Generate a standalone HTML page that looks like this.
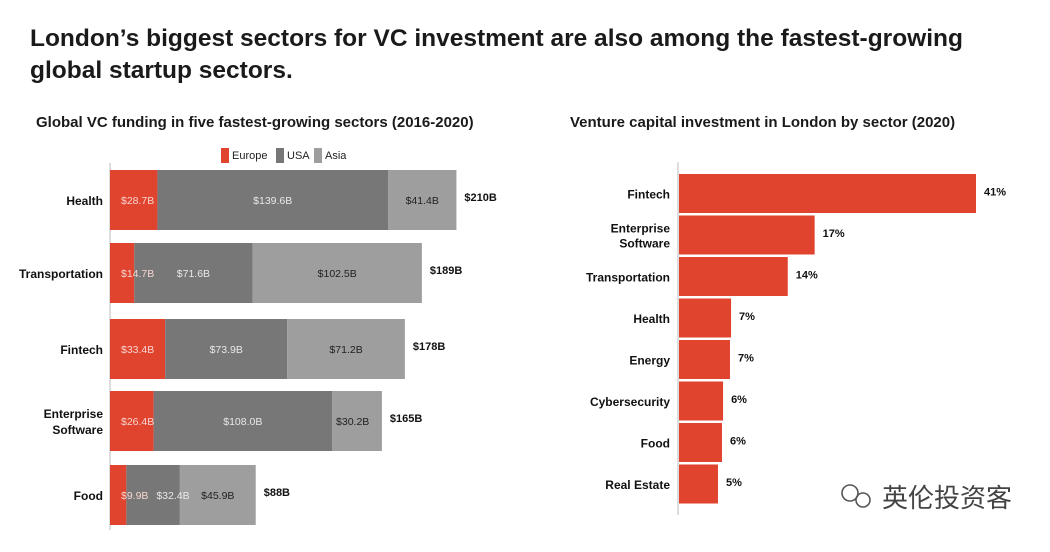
<!DOCTYPE html>
<html><head><meta charset="utf-8"><style>
body{margin:0;background:#fff;width:1050px;height:547px;overflow:hidden;font-family:"Liberation Sans","Noto Sans CJK SC",sans-serif}
svg text{font-family:"Liberation Sans","Noto Sans CJK SC",sans-serif}
</style></head><body>
<svg width="1050" height="547" viewBox="0 0 1050 547">
<text x="30" y="46" font-size="24.5" font-weight="bold" fill="#1a1a1a">London’s biggest sectors for VC investment are also among the fastest-growing</text>
<text x="30" y="78" font-size="24.5" font-weight="bold" fill="#1a1a1a">global startup sectors.</text>
<text x="36" y="127" font-size="15" font-weight="bold" fill="#1a1a1a">Global VC funding in five fastest-growing sectors (2016-2020)</text>
<text x="570" y="127" font-size="15" font-weight="bold" fill="#1a1a1a">Venture capital investment in London by sector (2020)</text>
<g>
<rect x="221" y="148" width="8" height="15" fill="#e0432e"/>
<text x="232" y="159" font-size="11" fill="#222">Europe</text>
<rect x="276" y="148" width="8" height="15" fill="#777"/>
<text x="287" y="159" font-size="11" fill="#222">USA</text>
<rect x="314" y="148" width="8" height="15" fill="#9e9e9e"/>
<text x="325" y="159" font-size="11" fill="#222">Asia</text>
</g>
<g id="left"><g id="leftBars"></g><g id="leftLabels"></g></g>
<g id="right"></g>
<g>
<circle cx="850" cy="493" r="8" fill="none" stroke="#555" stroke-width="1.6"/>
<circle cx="863" cy="500" r="7" fill="none" stroke="#555" stroke-width="1.6"/>
<text x="882" y="507" font-size="26" fill="#444">英伦投资客</text>
</g>
</svg>
<script>
const leftCats=[["Health"],["Transportation"],["Fintech"],["Enterprise","Software"],["Food"]];
const europe=[28.7,14.7,33.4,26.4,9.9];
const usa=[139.6,71.6,73.9,108.0,32.4];
const asia=[41.4,102.5,71.2,30.2,45.9];
const totals=["$210B","$189B","$178B","$165B","$88B"];
const rightCats=[["Fintech"],["Enterprise","Software"],["Transportation"],["Health"],["Energy"],["Cybersecurity"],["Food"],["Real Estate"]];
const shares=[41,18.8,15.1,7.3,7.15,6.2,6.05,5.5];
const shareLabels=["41%","17%","14%","7%","7%","6%","6%","5%"];
const NS="http://www.w3.org/2000/svg";
function mk(t,a,p){const e=document.createElementNS(NS,t);for(const k in a)e.setAttribute(k,a[k]);p.appendChild(e);return e;}
const LB=document.getElementById('leftBars');
const LT=document.getElementById('leftLabels');
const lx=v=>110+v*1.652;
const lTop=[170,243,319,391,465], lH=60;
const axL=mk('line',{x1:110,y1:163,x2:110,y2:530,stroke:'#ddd','stroke-width':2},LB);


leftCats.forEach((c,i)=>{
  const y=lTop[i], cy=y+lH/2;
  const segs=[[europe[i],'#e0432e','#f6d6d0','europe'],[usa[i],'#777','#e8e8e8','usa'],[asia[i],'#9e9e9e','#222','asia']];
  let acc=0;
  segs.forEach(s=>{
    const r=mk('rect',{x:lx(acc),y:y,width:lx(acc+s[0])-lx(acc),height:lH,fill:s[1]},LB);
    
    
    const w=lx(acc+s[0])-lx(acc);
    const small=w<60;
    const off=s[3]==='europe'?11:(s[3]==='usa'?30:4);
    const t=mk('text',{x:small?lx(acc)+off:(lx(acc)+lx(acc+s[0]))/2,y:cy+4,'font-size':10.5,fill:s[2],'text-anchor':small?'start':'middle'},LT);
    t.textContent='$'+s[0].toFixed(1)+'B';
    
    
    acc+=s[0];
  });
  const tt=mk('text',{x:lx(acc)+8,y:cy+1,'font-size':11,'font-weight':'bold',fill:'#111'},LT);
  tt.textContent=totals[i];
  
  
  c.forEach((w,j)=>{
    const ct=mk('text',{x:103,y:cy+5+(j-(c.length-1)/2)*16,'font-size':12,'font-weight':'bold',fill:'#111','text-anchor':'end'},LT);
    ct.textContent=w;
    
    
  });
});
const R=document.getElementById('right');
const rx=v=>678+v*(298/41);
const axR=mk('line',{x1:678,y1:162,x2:678,y2:515,stroke:'#ddd','stroke-width':2},R);


rightCats.forEach((c,i)=>{
  const y=174+i*41.5, h=39, cy=y+h/2;
  const r=mk('rect',{x:679,y:y,width:rx(shares[i])-679,height:h,fill:'#e0432e'},R);
  
  
  const t=mk('text',{x:rx(shares[i])+8,y:cy+2,'font-size':11,'font-weight':'bold',fill:'#111'},R);
  t.textContent=shareLabels[i];
  
  
  c.forEach((w,j)=>{
    const ct=mk('text',{x:670,y:cy+5+(j-(c.length-1)/2)*15,'font-size':12,'font-weight':'bold',fill:'#111','text-anchor':'end'},R);
    ct.textContent=w;
    
    
  });
});
</script>
</body></html>
